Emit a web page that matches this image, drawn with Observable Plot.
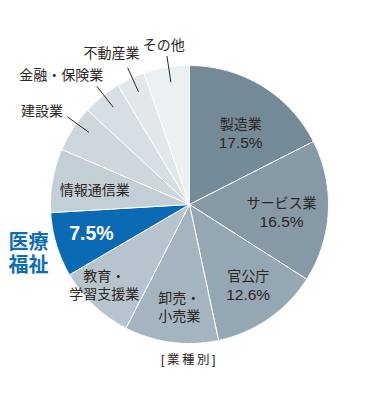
<!DOCTYPE html>
<html>
<head>
<meta charset="utf-8">
<script src="https://cdn.jsdelivr.net/npm/d3@7"></script>
<script src="https://cdn.jsdelivr.net/npm/@observablehq/plot@0.6"></script>
<style>
  html, body { margin: 0; padding: 0; background: #fff; }
  #chart svg { display: block; }
</style>
</head>
<body>
<div id="chart"></div>
<script>
// ---- data ----
const categories = ["製造業", "サービス業", "官公庁", "卸売・小売業", "教育・学習支援業", "医療福祉", "情報通信業", "建設業", "金融・保険業", "不動産業", "その他"];
const shares = [17.5, 16.5, 12.6, 10.9, 9.0, 7.5, 7.4, 5.4, 4.5, 3.3, 5.3];
const displayNames = ["製造業", "サービス業", "官公庁", "卸売・\n小売業", "教育・\n学習支援業", "医療\n福祉", "情報通信業", "建設業", "金融・保険業", "不動産業", "その他"];
const showShare = [true, true, true, false, false, true, false, false, false, false, false];
const highlight = "医療福祉";
const caption = "[業種別]";

// ---- styles / layout ----
const sliceColors = ["#748b97", "#8699a5", "#94a7b2", "#a4b5bf", "#b6c5cd", "#0a6ab4", "#c3cfd6", "#cdd7dd", "#d7dfe4", "#e1e7eb", "#ebf0f3"];
const textColor = "#2b2523";
const accent = "#0f6cb6";
// label placement relative to each slice's mid-angle: r = radius fraction, da = angle offset (deg)
const labelLayout = [
  {r: 0.63, da: 4.2}, {r: 0.665, da: 2.3}, {r: 0.72, da: -1.1}, {r: 0.737, da: -1.8},
  {r: 0.84, da: 3.5}, {r: 0.737, da: 0}, {r: 0.69, da: -0.7},
  {r: 1.26, da: -0.4, leader: 2.6}, {r: 1.317, da: -5.4, leader: 1}, {r: 1.23, da: -2.1, leader: 0.7}, {r: 1.17, da: 0.4, leader: 0.9}
];
const nameOutsideLayout = {r: 1.21, da: 0};

const total = d3.sum(shares);
let acc = 0;
const slices = categories.map((c, i) => {
  const a0 = acc / total * 2 * Math.PI;
  acc += shares[i];
  const a1 = acc / total * 2 * Math.PI;
  return {category: c, i, a0, a1, mid: (a0 + a1) / 2};
});

const polygon = slices.flatMap(s => {
  const n = Math.max(2, Math.ceil((s.a1 - s.a0) / (Math.PI / 360)));
  const pts = [{category: s.category, x: 0, y: 0}];
  for (let k = 0; k <= n; k++) {
    const a = s.a0 + (s.a1 - s.a0) * k / n;
    pts.push({category: s.category, x: Math.sin(a), y: Math.cos(a)});
  }
  pts.push({category: s.category, x: 0, y: 0});
  return pts;
});

const rad = d => d * Math.PI / 180;
const polar = (a, r) => ({x: Math.sin(a) * r, y: Math.cos(a) * r});

const labels = slices.map(s => {
  const L = labelLayout[s.i];
  const p = polar(s.mid + rad(L.da), L.r);
  const isHi = s.category === highlight;
  return {
    ...p, i: s.i, category: s.category,
    name: displayNames[s.i],
    pct: shares[s.i].toFixed(1) + "%",
    kind: isHi ? "hi" : (showShare[s.i] ? "pair" : "name")
  };
});

const leaders = slices.filter(s => labelLayout[s.i].leader !== undefined).map(s => {
  const a = s.mid + rad(labelLayout[s.i].leader);
  const p1 = polar(a, 0.89), p2 = polar(a, 1.08);
  return {x1: p1.x, y1: p1.y, x2: p2.x, y2: p2.y};
});

const hiSlice = slices.find(s => s.category === highlight);
const hiName = [{...polar(hiSlice.mid + rad(nameOutsideLayout.da), nameOutsideLayout.r), text: displayNames[hiSlice.i]}];

const font = "'Liberation Sans', 'Noto Sans CJK JP', sans-serif";

const chart = Plot.plot({
  width: 376,
  height: 400,
  marginLeft: 50,
  marginRight: 48,
  marginTop: 65,
  marginBottom: 57,
  x: {domain: [-1, 1], axis: null},
  y: {domain: [-1, 1], axis: null},
  color: {domain: categories, range: sliceColors},
  style: {fontFamily: font, background: "#fff"},
  marks: [
    Plot.line(polygon, {x: "x", y: "y", z: "category", fill: "category", stroke: "white", strokeWidth: 1, strokeLinejoin: "round"}),
    Plot.link(leaders, {x1: "x1", y1: "y1", x2: "x2", y2: "y2", stroke: textColor, strokeWidth: 1}),
    Plot.text(labels.filter(d => d.kind === "name"), {x: "x", y: "y", text: "name", fill: textColor, fontSize: 14, lineHeight: 1.3, fontFamily: font}),
    Plot.text(labels.filter(d => d.kind === "pair"), {x: "x", y: "y", text: "name", dy: -9, fill: textColor, fontSize: 14, fontFamily: font}),
    Plot.text(labels.filter(d => d.kind === "pair"), {x: "x", y: "y", text: "pct", dy: 9.5, fill: textColor, fontSize: 15.5, fontFamily: font}),
    Plot.text(labels.filter(d => d.kind === "hi"), {x: "x", y: "y", text: "pct", fill: "white", fontSize: 19.5, fontWeight: "bold", fontFamily: font}),
    Plot.text(hiName, {x: "x", y: "y", text: "text", fill: accent, fontSize: 20, fontWeight: "bold", lineHeight: 1.15, fontFamily: font}),
    Plot.text([caption], {frameAnchor: "bottom", lineAnchor: "middle", dy: 16, text: d => d, fill: textColor, fontSize: 12.5, fontFamily: font})
  ]
});

// letter-spacing for the caption
d3.select(chart).selectAll("text").filter(function () { return this.textContent === caption; }).style("letter-spacing", "2.5px");

document.getElementById("chart").appendChild(chart);
</script>
</body>
</html>
